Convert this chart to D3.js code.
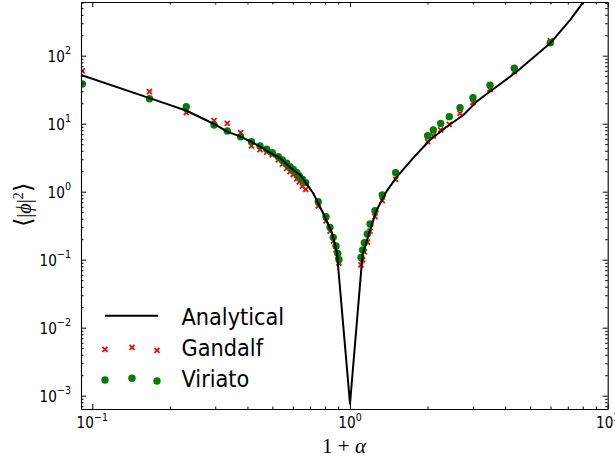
<!DOCTYPE html>
<html>
<head>
<meta charset="utf-8">
<script src="https://cdn.jsdelivr.net/npm/d3@7"></script>
<style>
  html, body { margin: 0; padding: 0; background: #fff; overflow: hidden; }
  text { fill: #000; }
</style>
</head>
<body>
<svg id="chart" width="615" height="458"></svg>
<script>
// Analytical curve, sampled in 1+alpha
const analyticX = [0.0904, 0.183, 0.2323, 0.2967, 0.334, 0.3765, 0.4147, 0.448, 0.4994, 0.535,
  0.585, 0.640, 0.673, 0.719, 0.786, 0.852, 0.890, 1.0, 1.118, 1.196, 1.269, 1.388, 1.517,
  1.756, 2.043, 2.373, 2.755, 3.10, 3.28, 4.43, 5.98, 7.14, 8.16];
const analyticY = [52.0, 21.1, 15.5, 9.9, 7.64, 6.46, 5.38, 4.59, 3.58, 3.13,
  2.28, 1.76, 1.36, 0.957, 0.486, 0.247, 0.126, 7.6e-4, 0.117, 0.273, 0.538, 1.02, 1.64,
  3.12, 5.76, 9.03, 13.4, 21.1, 24.9, 58.0, 152, 334, 660];

// Simulation runs (same 1+alpha values for both codes)
const runX = [0.0915, 0.1667, 0.2316, 0.2967, 0.334, 0.3765, 0.4147, 0.4474, 0.4751, 0.4994,
  0.5268, 0.5462, 0.5679, 0.585, 0.6026, 0.6211, 0.6357, 0.6532, 0.673, 0.753, 0.807, 0.8364,
  0.861, 0.8825, 0.896, 0.906,
  1.103, 1.12, 1.137, 1.167, 1.196, 1.25, 1.335, 1.504, 2.002, 2.105, 2.249, 2.428, 2.673,
  3.0, 3.494, 4.34, 5.99];
const gandalfY = [59.6, 29.6, 14.5, 11.1, 10.1, 7.37, 4.70, 4.17, 3.83, 3.47,
  2.93, 2.55, 2.21, 1.98, 1.79, 1.54, 1.39, 1.21, 1.08, 0.616, 0.371, 0.264,
  0.188, 0.139, 0.113, 0.0894,
  0.0836, 0.099, 0.130, 0.182, 0.264, 0.429, 0.737, 1.52, 5.43, 6.59, 8.08, 9.80, 14.2,
  20.5, 32.1, 58.2, 166];
const viriatoY = [38.4, 23.3, 17.8, 9.57, 7.81, 6.44, 5.43, 4.70, 4.20, 3.75,
  3.27, 2.92, 2.62, 2.33, 2.13, 1.90, 1.70, 1.52, 1.36, 0.713, 0.429, 0.299,
  0.213, 0.159, 0.124, 0.101,
  0.108, 0.139, 0.178, 0.239, 0.335, 0.526, 0.894, 1.90, 6.66, 8.08, 10.1, 12.7, 17.2,
  24.1, 36.7, 65.3, 155];

const xTickExps = [-1, 0, 1];
const yTickExps = [-3, -2, -1, 0, 1, 2];
const legendLabels = ["Analytical", "Gandalf", "Viriato"];

const W = 615, H = 458;
const plot = { left: 81, right: 607.7, top: 2, bottom: 409 };
const SQ = 0.91; // horizontal text compression

const svg = d3.select("#chart");

const x = d3.scaleLog().domain([0.0904, 10]).range([plot.left, plot.right]);
const y = d3.scaleLog().domain([6.37e-4, 616]).range([plot.bottom, plot.top]);

function logTicks(domain) {
  const [a, b] = domain;
  const major = [], minor = [];
  for (let e = Math.floor(Math.log10(a)); e <= Math.ceil(Math.log10(b)); e++) {
    for (let k = 1; k <= 9; k++) {
      const v = k * Math.pow(10, e);
      if (v < a * 0.9999 || v > b * 1.0001) continue;
      (k === 1 ? major : minor).push(v);
    }
  }
  return { major, minor };
}
const xt = logTicks(x.domain());
const yt = logTicks(y.domain());

const MAJ = 5, MIN = 2.5;

function drawAxis(axisFn, scale, ticks, transform) {
  const gMaj = svg.append("g").attr("transform", transform)
    .call(axisFn(scale).tickValues(ticks.major).tickSizeInner(-MAJ).tickSizeOuter(0).tickFormat(""));
  const gMin = svg.append("g").attr("transform", transform)
    .call(axisFn(scale).tickValues(ticks.minor).tickSizeInner(-MIN).tickSizeOuter(0).tickFormat(""));
  gMin.select(".domain").remove();
  [gMaj, gMin].forEach(g => {
    g.selectAll("line").attr("stroke", "#000").attr("stroke-width", 1);
    g.select(".domain").attr("stroke", "#000").attr("stroke-width", 1.1);
  });
}

// Clip region for the data
svg.append("defs").append("clipPath").attr("id", "plotclip")
  .append("rect").attr("x", plot.left).attr("y", plot.top)
  .attr("width", plot.right - plot.left).attr("height", plot.bottom - plot.top);

const data = svg.append("g").attr("clip-path", "url(#plotclip)");

function crossPath(s) {
  return `M${-s},${-s}L${s},${s}M${-s},${s}L${s},${-s}`;
}

// Gandalf: red crosses
data.append("g").selectAll("path").data(runX.map((v, i) => [v, gandalfY[i]]))
  .join("path")
  .attr("transform", d => `translate(${x(d[0])},${y(d[1])})`)
  .attr("d", crossPath(2.5))
  .attr("stroke", "#ff0000").attr("stroke-width", 1.8).attr("fill", "none");

// Viriato: green dots
data.append("g").selectAll("circle").data(runX.map((v, i) => [v, viriatoY[i]]))
  .join("circle")
  .attr("cx", d => x(d[0])).attr("cy", d => y(d[1])).attr("r", 3.7)
  .attr("fill", "#008000");

// Analytical curve
data.append("path")
  .datum(analyticX.map((v, i) => [v, analyticY[i]]))
  .attr("d", d3.line().x(d => x(d[0])).y(d => y(d[1])))
  .attr("fill", "none").attr("stroke", "#000").attr("stroke-width", 2)
  .attr("stroke-linejoin", "round");

// Frame with inward ticks on all sides
drawAxis(d3.axisBottom, x, xt, `translate(0,${plot.bottom})`);
drawAxis(d3.axisTop, x, xt, `translate(0,${plot.top})`);
drawAxis(d3.axisLeft, y, yt, `translate(${plot.left},0)`);
drawAxis(d3.axisRight, y, yt, `translate(${plot.right},0)`);

// Power-of-ten tick labels
function powLabel(px, py, exp, anchor) {
  const t = svg.append("text")
    .attr("transform", `translate(${px},${py}) scale(${SQ},1)`)
    .attr("text-anchor", anchor)
    .attr("font-family", "DejaVu Sans").attr("font-size", 15);
  t.append("tspan").text("10");
  t.append("tspan").attr("dy", -7.5).attr("font-size", 10.5)
    .text(exp < 0 ? "\u2212" + Math.abs(exp) : String(exp));
}
xTickExps.forEach(e => powLabel(x(Math.pow(10, e)), 428, e, "middle"));
yTickExps.forEach(e => powLabel(71, y(Math.pow(10, e)) + 6, e, "end"));

// Axis titles
const xl = svg.append("text")
  .attr("x", 344).attr("y", 453).attr("text-anchor", "middle")
  .attr("font-family", "Liberation Serif").attr("font-size", 21);
xl.append("tspan").text("1 + ");
xl.append("tspan").attr("font-style", "italic").text("α");

const yl = svg.append("text")
  .attr("transform", "translate(31,205) rotate(-90)")
  .attr("text-anchor", "middle")
  .attr("font-family", "Liberation Serif, DejaVu Serif").attr("font-size", 20)
  .attr("fill", "#222");
yl.append("tspan").attr("font-family", "DejaVu Sans").attr("font-weight", 200).attr("font-size", 24).text("\u27E8");
yl.append("tspan").text("|");
yl.append("tspan").attr("font-style", "italic").text("ϕ");
yl.append("tspan").text("|");
yl.append("tspan").attr("dy", -8).attr("font-size", 14).text("2");
yl.append("tspan").attr("dy", 8).attr("font-family", "DejaVu Sans").attr("font-weight", 200).attr("font-size", 24).text("\u27E9");

// Legend
const legend = svg.append("g");
const rowY = [325, 356, 387];
legend.append("line").attr("x1", 105).attr("x2", 158).attr("y1", 315.7).attr("y2", 315.7)
  .attr("stroke", "#000").attr("stroke-width", 2);
const legendMarkX = [105, 132, 157];
const legendRedY = [349.3, 347.3, 350.3];
const legendGreenY = [380, 378.3, 381];
legend.selectAll("path.lg").data(legendMarkX).join("path").attr("class", "lg")
  .attr("transform", (d, i) => `translate(${d},${legendRedY[i]})`)
  .attr("d", crossPath(2.5))
  .attr("stroke", "#ff0000").attr("stroke-width", 1.8).attr("fill", "none");
legend.selectAll("circle").data(legendMarkX).join("circle")
  .attr("cx", d => d).attr("cy", (d, i) => legendGreenY[i]).attr("r", 3.7)
  .attr("fill", "#008000");
legend.selectAll("text").data(legendLabels).join("text")
  .attr("transform", (d, i) => `translate(181.5,${rowY[i]}) scale(${SQ},1)`)
  .attr("font-family", "DejaVu Sans").attr("font-size", 23)
  .text(d => d);
</script>
</body>
</html>
